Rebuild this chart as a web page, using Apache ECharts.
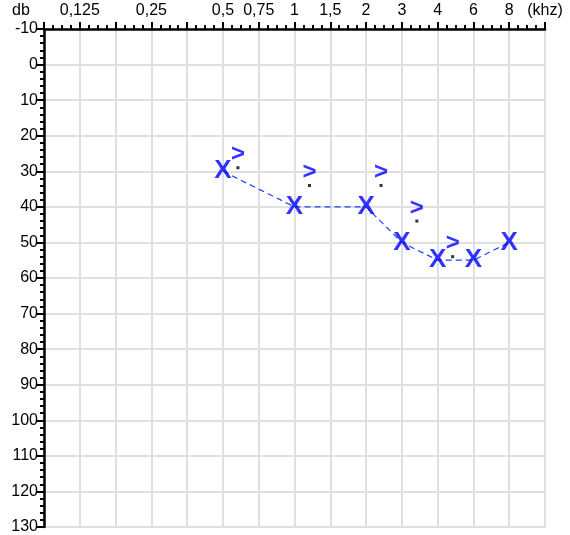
<!DOCTYPE html>
<html>
<head>
<meta charset="utf-8">
<script src="https://cdn.jsdelivr.net/npm/echarts@6/dist/echarts.min.js"></script>
<style>
  html, body { margin: 0; padding: 0; background: #fff; }
  #chart { width: 570px; height: 535px; }
</style>
</head>
<body>
<div id="chart"></div>
<script>
// Frequency slots across the top axis (kHz), one per grid column line
var freqLabels = ['', '0,125', '', '0,25', '', '0,5', '0,75', '1', '1,5', '2', '3', '4', '6', '8', '(khz)'];
// Y tick labels (dB)
var dbMin = -10, dbMax = 130, dbStep = 10;

// Air conduction thresholds (X)
var airFreq = ['0,5', '1', '2', '3', '4', '6', '8'];
var airDb   = [30, 40, 40, 50, 55, 55, 50];

// Bone conduction thresholds (>)
var boneFreq = ['0,5', '1', '2', '3', '4'];
var boneDb   = [29, 34, 34, 44, 54];

function idx(f) { return freqLabels.indexOf(f); }
var airData = airFreq.map(function (f, i) { return [idx(f), airDb[i]]; });
var boneData = boneFreq.map(function (f, i) { return [idx(f), boneDb[i]]; });

var FONT = 'Liberation Sans, Arial, sans-serif';
var BLUE = '#0000ff';
var chart = echarts.init(document.getElementById('chart'), null, { renderer: 'canvas' });
chart.setOption({
  animation: false,
  backgroundColor: '#ffffff',
  grid: { left: 44, right: 25, top: 29, bottom: 6, containLabel: false },
  graphic: [{
    type: 'text', left: 12, top: 3,
    style: { text: 'db', font: '16px ' + FONT, fill: '#000' }
  }],
  xAxis: {
    type: 'value', position: 'top', min: 0, max: freqLabels.length - 1, interval: 1,
    axisLine: { show: true, onZero: false, lineStyle: { color: '#000', width: 2.5 } },
    axisTick: { show: true, inside: false, length: 7, lineStyle: { color: '#000', width: 2 } },
    minorTick: { show: true, splitNumber: 4, length: 4, lineStyle: { color: '#000', width: 2 } },
    axisLabel: {
      margin: 10, color: '#000', fontSize: 16, fontFamily: FONT,
      showMinLabel: true, showMaxLabel: true,
      formatter: function (v) { return freqLabels[Math.round(v)] || ''; }
    },
    splitLine: { show: true, lineStyle: { color: '#e0e0e0', width: 2 } }
  },
  yAxis: {
    type: 'value', inverse: true, min: dbMin, max: dbMax, interval: dbStep,
    axisLine: { show: true, onZero: false, lineStyle: { color: '#000', width: 2.5 } },
    axisTick: { show: true, inside: false, length: 7, lineStyle: { color: '#000', width: 2 } },
    minorTick: { show: true, splitNumber: 5, length: 4, lineStyle: { color: '#000', width: 2 } },
    axisLabel: { margin: 6, color: '#000', fontSize: 16, fontFamily: FONT, showMinLabel: true, showMaxLabel: true },
    splitLine: { show: true, lineStyle: { color: '#e0e0e0', width: 2 } }
  },
  series: [
    {
      type: 'line', data: airData, symbol: 'none', silent: true,
      lineStyle: { color: '#2040ff', width: 1.2, type: [6, 4] },
      z: 2
    },
    {
      type: 'scatter', data: airData, symbol: 'circle', symbolSize: 1,
      itemStyle: { color: 'rgba(0,0,0,0)' },
      label: {
        show: true, position: 'inside', formatter: 'X',
        fontSize: 26, fontWeight: 'bold', fontFamily: FONT, color: BLUE
      },
      z: 3
    },
    {
      type: 'scatter', data: boneData, symbol: 'rect', symbolSize: 3,
      symbolOffset: [15, 0],
      itemStyle: { color: '#000' },
      z: 3
    },
    {
      type: 'scatter', data: boneData, symbol: 'circle', symbolSize: 1,
      itemStyle: { color: 'rgba(0,0,0,0)' },
      label: {
        show: true, position: 'inside', formatter: '>', offset: [15, -13],
        fontSize: 24, fontWeight: 'bold', fontFamily: FONT, color: BLUE
      },
      z: 3
    }
  ]
});
</script>
</body>
</html>
